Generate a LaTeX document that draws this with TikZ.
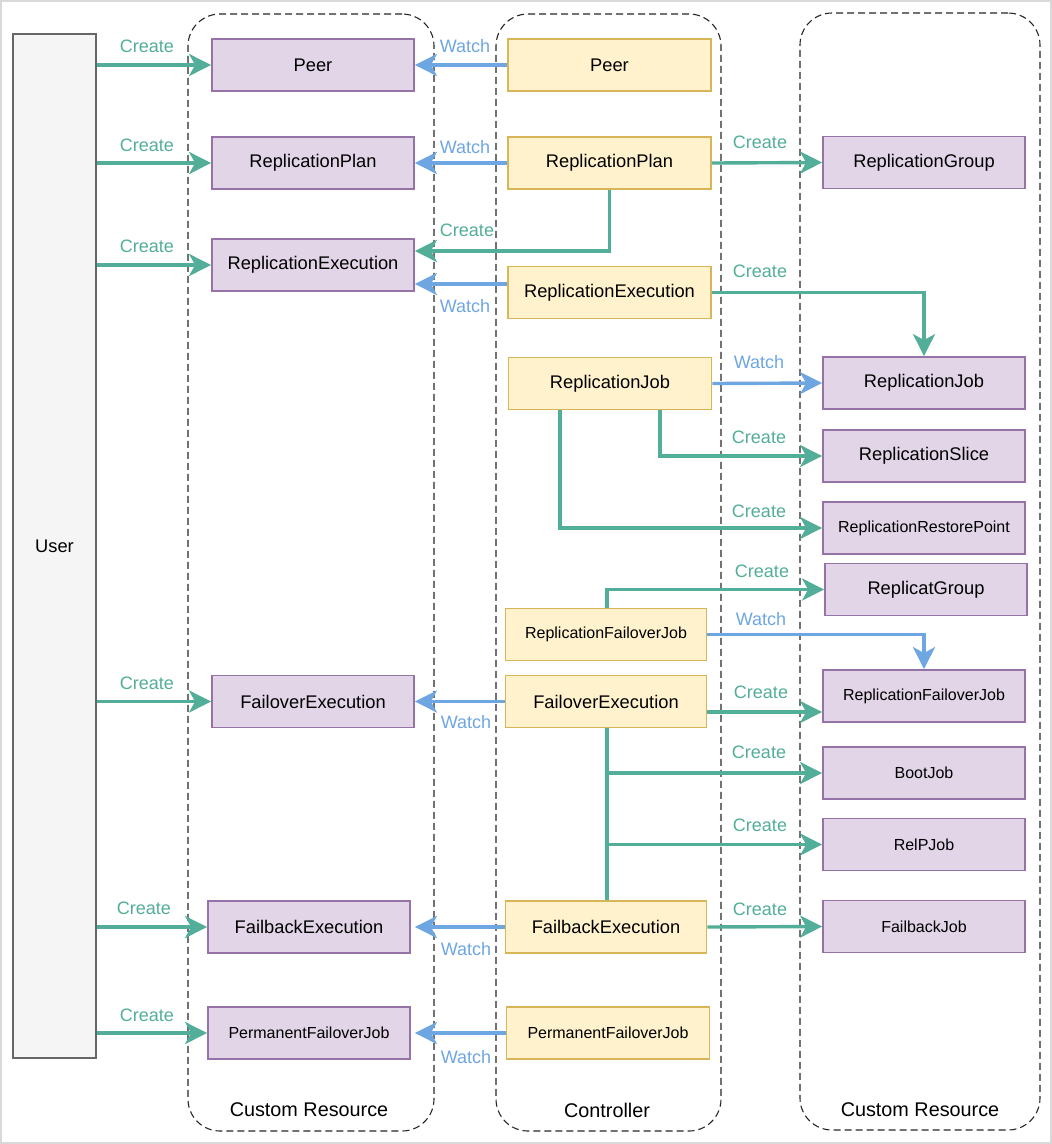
\documentclass[tikz,border=0pt]{standalone}
\usepackage{fontspec}
\setmainfont{Liberation Sans}
\usetikzlibrary{arrows.meta}
\definecolor{pfill}{HTML}{E1D5E7}
\definecolor{pdraw}{HTML}{9673A6}
\definecolor{yfill}{HTML}{FFF2CC}
\definecolor{ydraw}{HTML}{D6B656}
\definecolor{cgreen}{HTML}{52AE98}
\definecolor{wblue}{HTML}{6EA6E2}
\definecolor{ufill}{HTML}{F5F5F5}
\definecolor{udraw}{HTML}{666666}
\definecolor{frame}{HTML}{D9D9D9}
\begin{document}
\begin{tikzpicture}[x=1pt,y=-1pt,
  big/.style={font=\fontsize{18.3}{21}\selectfont},
  small/.style={font=\fontsize{16}{19}\selectfont},
  pbox/.style={draw=pdraw,fill=pfill,line width=1.8pt,minimum width=202pt,minimum height=52pt,inner sep=0pt,big},
  ybox/.style={draw=ydraw,fill=yfill,line width=1.8pt,minimum width=203pt,minimum height=52pt,inner sep=0pt,big},
  cont/.style={draw=black!85,line width=1.1pt,dash pattern=on 7pt off 4pt,rounded corners=32pt,inner sep=0pt},
  tip/.style={-{Stealth[length=22pt,width=22pt,inset=6pt]}},
  create/.style={draw=cgreen,line width=3.4pt,tip},
  watch/.style={draw=wblue,line width=3.4pt,tip},
  gline/.style={draw=cgreen,line width=3.4pt},
  lc/.style={text=cgreen,font=\fontsize{18}{21}\selectfont,inner sep=0pt},
  lw/.style={text=wblue,font=\fontsize{18}{21}\selectfont,inner sep=0pt},
  ctitle/.style={font=\fontsize{19.8}{23}\selectfont,inner sep=0pt}
]
\useasboundingbox (0,0) rectangle (1052,1144);
\draw[frame,line width=2.5pt] (1,1) rectangle (1051,1143);

% containers
\node[cont,minimum width=246pt,minimum height=1117pt] (contL) at (311,572.5) {};
\node[cont,minimum width=225pt,minimum height=1117pt] (contC) at (608.5,572.5) {};
\node[cont,minimum width=240pt,minimum height=1117pt] (contR) at (920,571.5) {};
\node[ctitle] (tL) at (309,1110) {Custom Resource};
\node[ctitle] (tC) at (607,1110) {Controller};
\node[ctitle] (tR) at (920,1110) {Custom Resource};

% user
\node[draw=udraw,fill=ufill,line width=1.8pt,minimum width=83pt,minimum height=1024pt,inner sep=0pt,big] (user) at (54.5,546) {User};

% left column
\node[pbox] (peerL) at (313,65) {Peer};
\node[pbox] (rpL) at (313,163) {ReplicationPlan};
\node[pbox] (reL) at (313,265) {ReplicationExecution};
\node[pbox] (feL) at (313,701.5) {FailoverExecution};
\node[pbox] (fbeL) at (309,927) {FailbackExecution};
\node[pbox,small] (pfjL) at (309,1033) {PermanentFailoverJob};

% controller column
\node[ybox] (peerC) at (609.5,65) {Peer};
\node[ybox] (rpC) at (609.5,163) {ReplicationPlan};
\node[ybox] (reC) at (609.5,292.5) {ReplicationExecution};
\node[ybox] (rjC) at (610,383.5) {ReplicationJob};
\node[ybox,small,minimum width=201pt] (rfjC) at (606,634.5) {ReplicationFailoverJob};
\node[ybox,minimum width=201pt] (feC) at (606,701.5) {FailoverExecution};
\node[ybox,minimum width=201pt] (fbeC) at (606,927) {FailbackExecution};
\node[ybox,small] (pfjC) at (608,1033) {PermanentFailoverJob};

% right column
\node[pbox] (rgR) at (924,162.5) {ReplicationGroup};
\node[pbox] (rjR) at (924,383) {ReplicationJob};
\node[pbox] (rsR) at (924,456) {ReplicationSlice};
\node[pbox,small] (rrpR) at (924,528) {ReplicationRestorePoint};
\node[pbox] (rcgR) at (926,589.5) {ReplicatGroup};
\node[pbox,small] (rfjR) at (924,696) {ReplicationFailoverJob};
\node[pbox,small] (bootR) at (924,773) {BootJob};
\node[pbox,small] (relpR) at (924,844.5) {RelPJob};
\node[pbox,small] (fbjR) at (924,926.5) {FailbackJob};

% user create arrows
\draw[create] (user.east |- peerL) -- (peerL.west);
\draw[create] (user.east |- rpL) -- (rpL.west);
\draw[create] (user.east |- reL) -- (reL.west);
\draw[create] (user.east |- feL) -- (feL.west);
\draw[create] (user.east |- fbeL) -- (fbeL.west);
\draw[create] (user.east |- pfjL) -- (pfjL.west);
\node[lc] (lu1) at (147,46) {Create};
\node[lc] (lu2) at (147,145) {Create};
\node[lc] (lu3) at (147,246) {Create};
\node[lc] (lu4) at (147,683) {Create};
\node[lc] (lu5) at (144,908) {Create};
\node[lc] (lu6) at (147,1015) {Create};

% watch arrows to left
\draw[watch] (peerC.west) -- (peerL.east);
\draw[watch] (rpC.west) -- (rpL.east);
\draw[watch] ([yshift=8.5pt]reC.west) -- ([yshift=-19pt]reL.east);
\draw[watch] (feC.west) -- (feL.east);
\draw[watch] (fbeC.west) -- ([xshift=4pt]fbeL.east);
\draw[watch] (pfjC.west) -- ([xshift=4pt]pfjL.east);
\node[lw] (lw1) at (465,46) {Watch};
\node[lw] (lw2) at (465,147) {Watch};
\node[lw] (lw3) at (465,306) {Watch};
\node[lw] (lw4) at (466,722) {Watch};
\node[lw] (lw5) at (466,949) {Watch};
\node[lw] (lw6) at (466,1057) {Watch};

% plan creates execution
\draw[create] (rpC.south) |- ([yshift=14pt]reL.east);
\node[lc] (lpc) at (467,230) {Create};

% right side arrows
\draw[create] (rpC.east) -- (rgR.west);
\node[lc] (lr1) at (760,142) {Create};
\draw[create] (reC.east) -| (rjR.north);
\node[lc] (lr2) at (760,271) {Create};
\draw[watch] (rjC.east) -- (rjR.west);
\node[lw] (lr3) at (759,362) {Watch};
\draw[create] ([xshift=50pt]rjC.south) |- (rsR.west);
\node[lc] (lr4) at (759,437) {Create};
\draw[create] ([xshift=-50pt]rjC.south) |- (rrpR.west);
\node[lc] (lr5) at (759,511) {Create};
\draw[create] ([xshift=1pt]rfjC.north) |- (rcgR.west);
\node[lc] (lr6) at (762,571) {Create};
\draw[watch] (rfjC.east) -| (rfjR.north);
\node[lw] (lr7) at (761,619) {Watch};
\draw[create] ([yshift=-10.5pt]feC.east) -- ([yshift=-16pt]rfjR.west);
\node[lc] (lr8) at (761,692) {Create};
\draw[create] ([xshift=1pt]feC.south) |- (bootR.west);
\node[lc] (lr9) at (759,752) {Create};
\draw[create] ([xshift=1pt]feC.south) |- (relpR.west);
\draw[gline] ([xshift=1pt]fbeC.north) -- ([xshift=1pt,yshift=-1.7pt]relpR.west -| fbeC.north);
\node[lc] (lr10) at (760,825) {Create};
\draw[create] (fbeC.east) -- (fbjR.west);
\node[lc] (lr11) at (760,909) {Create};
\end{tikzpicture}
\end{document}
